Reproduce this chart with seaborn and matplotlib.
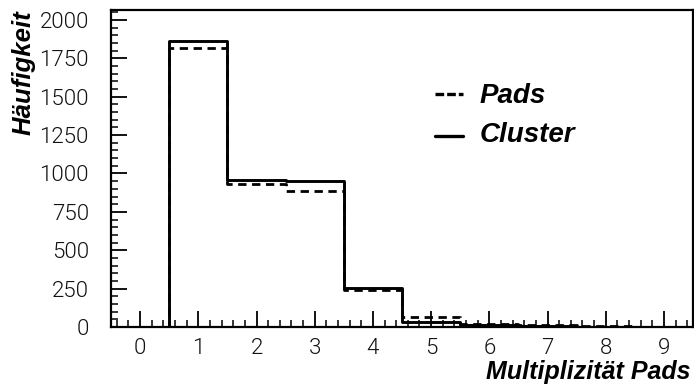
import numpy as np
import pandas as pd
import matplotlib
matplotlib.use("Agg")
import matplotlib.pyplot as plt
from matplotlib.lines import Line2D
from matplotlib.ticker import MultipleLocator
import seaborn as sns

# Multiplicity bins and counts per bin
multiplicity = [0, 1, 2, 3, 4, 5, 6, 7, 8, 9]
pads_counts = [0, 1820, 934, 884, 240, 68, 21, 10, 5, 3]
cluster_counts = [0, 1860, 960, 950, 255, 31, 10, 6, 3, 2]

x_ticks = [0, 1, 2, 3, 4, 5, 6, 7, 8, 9]
y_ticks = [0, 250, 500, 750, 1000, 1250, 1500, 1750, 2000]

sns.set_style("white")
plt.rcParams["font.family"] = ["DejaVu Sans"]

fig = plt.figure(figsize=(6.94, 3.92), dpi=100)
ax = fig.add_axes([111 / 694, 1 - 327 / 392, 582 / 694, 317 / 392])

cluster_df = pd.DataFrame({"m": multiplicity, "count": cluster_counts})
pads_df = pd.DataFrame({"m": multiplicity, "count": pads_counts})

sns.histplot(data=cluster_df, x="m", weights="count", discrete=True,
             element="step", fill=False, color="black", linewidth=2.1, ax=ax)
sns.histplot(data=pads_df, x="m", weights="count", discrete=True,
             element="step", fill=False, color="black", linewidth=2.0,
             linestyle=(0, (3, 2)), ax=ax)

ax.set_xlim(-0.5, 9.5)
ax.set_ylim(0, 2065)
ax.set_xticks(x_ticks)
ax.set_yticks(y_ticks)
ax.xaxis.set_minor_locator(MultipleLocator(0.2))
ax.yaxis.set_minor_locator(MultipleLocator(50))
ax.tick_params(axis="both", which="major", direction="in", length=11.5, width=1.3,
               color="black", bottom=True, left=True, top=False, right=False)
ax.tick_params(axis="both", which="minor", direction="in", length=5, width=1.1,
               color="black", bottom=True, left=True, top=False, right=False)
ax.tick_params(axis="y", which="major", pad=16)
ax.tick_params(axis="x", which="major", pad=8)
for lab in ax.get_xticklabels() + ax.get_yticklabels():
    lab.set_family("Roboto")
    lab.set_fontweight(300)
    lab.set_fontsize(16)
    lab.set_color("#111111")

for s in ax.spines.values():
    s.set_visible(True)
    s.set_color("black")
    s.set_linewidth(1.6)

ax.set_xlabel("")
ax.set_ylabel("")

label_font = dict(family="Liberation Sans", weight="bold", style="italic", size=18,
                  color="black")
fig.text(24 / 694, 1 - 10 / 392, "Häufigkeit", rotation=90, ha="center", va="top",
         **{**label_font, "size": 18.5})
fig.text(690 / 694, 1 - 379 / 392, "Multiplizität Pads", ha="right", va="baseline", **label_font)

# Legend keys and entries
legend_font = {**label_font, "size": 20}
fig.add_artist(Line2D([435 / 694, 463 / 694], [1 - 94 / 392] * 2, color="black",
                      linewidth=2.4, linestyle=(0, (2.6, 0.9))))
fig.add_artist(Line2D([435 / 694, 463 / 694], [1 - 136 / 392] * 2, color="black",
                      linewidth=2.4))
fig.text(480 / 694, 1 - 103 / 392, "Pads", ha="left", va="baseline", **legend_font)
fig.text(480 / 694, 1 - 142 / 392, "Cluster", ha="left", va="baseline", **legend_font)

fig.savefig("out.png", dpi=100)
